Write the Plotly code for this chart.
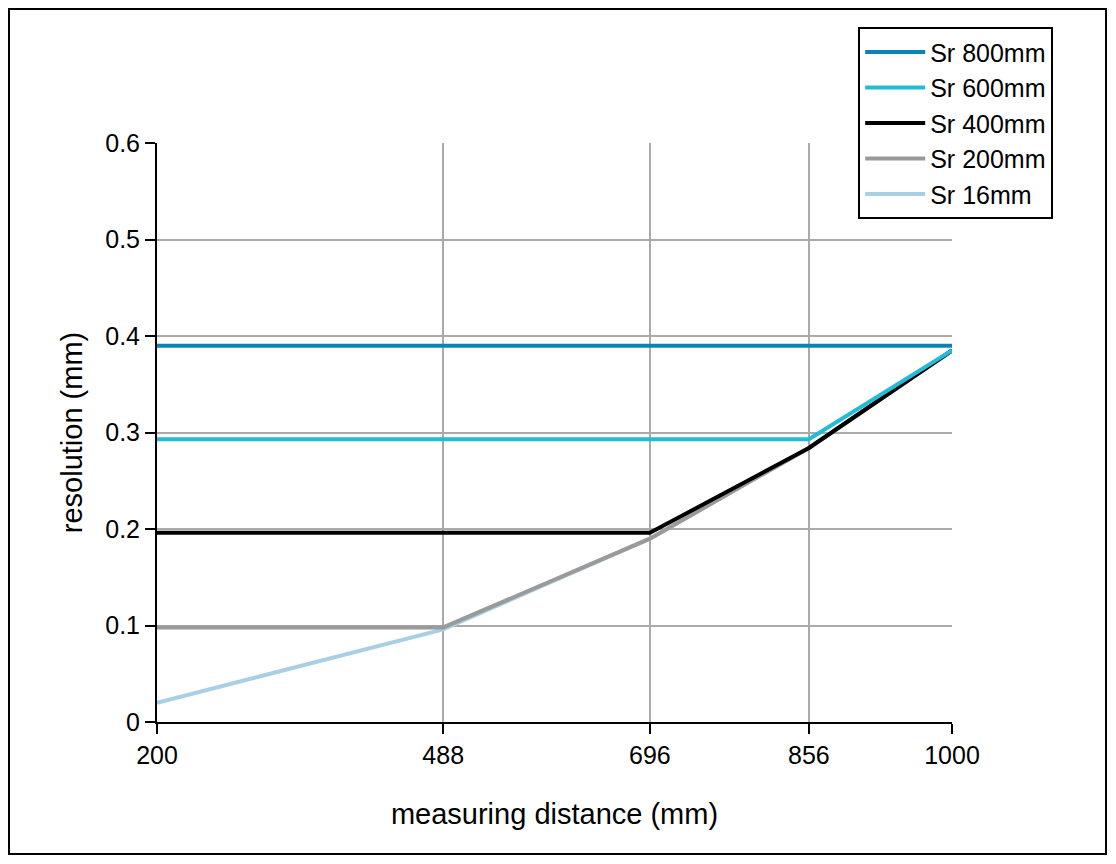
import plotly.graph_objects as go

# measuring distance (mm) and resolution (mm) per measuring range
dist = [200, 488, 696, 856, 1000]
sr800 = [0.39, 0.39, 0.39, 0.39, 0.39]
sr600 = [0.293, 0.293, 0.293, 0.293, 0.385]
sr400 = [0.196, 0.196, 0.196, 0.284, 0.385]
sr200 = [0.098, 0.098, 0.19, 0.284, 0.385]
sr16 = [0.02, 0.096, 0.19, 0.284, 0.385]

names = ["Sr 800mm", "Sr 600mm", "Sr 400mm", "Sr 200mm", "Sr 16mm"]
series = [sr800, sr600, sr400, sr200, sr16]
colors = ["#0a84b8", "#22bcd8", "#000000", "#9a9a9a", "#a8d0e4"]

W, H = 1100, 848
L, T, PW, PH = 149, 135, 795, 579

fig = go.Figure()
# draw bottom-most first so Sr 800 ends on top
for n, s, c in reversed(list(zip(names, series, colors))):
    fig.add_trace(go.Scatter(x=dist, y=s, name=n, mode="lines",
                             line=dict(color=c, width=4)))

fig.update_layout(
    width=W, height=H,
    margin=dict(l=L, r=W - L - PW, t=T, b=H - T - PH),
    paper_bgcolor="white", plot_bgcolor="white",
    font=dict(family="Liberation Sans, DejaVu Sans, sans-serif", size=24, color="black"),
    legend=dict(x=0.882, y=1.2, xanchor="left", yanchor="top",
                traceorder="reversed", bordercolor="black", borderwidth=2,
                bgcolor="white", font=dict(size=25), itemwidth=60,
                tracegroupgap=0),
    shapes=[dict(type="rect", xref="paper", yref="paper",
                 x0=(1 - L)/PW, x1=(W - 2 - L)/PW, y0=-(H - T - PH - 2)/PH, y1=(T - 1)/PH + 1,
                 line=dict(color="black", width=2))],
)
fig.update_xaxes(range=[200, 1000], tickvals=dist, ticktext=[str(d) for d in dist],
                 tickfont=dict(size=25),
                 showgrid=True, gridcolor="#aaaaaa", gridwidth=2,
                 showline=True, linecolor="black", linewidth=2,
                 ticks="outside", ticklen=10, tickwidth=2, tickcolor="black",
                 title=dict(text="measuring distance (mm)", standoff=36), zeroline=False)
fig.update_yaxes(range=[0, 0.6], tickvals=[0, 0.1, 0.2, 0.3, 0.4, 0.5, 0.6],
                 ticktext=["0", "0.1", "0.2", "0.3", "0.4", "0.5", "0.6"],
                 tickfont=dict(size=25),
                 showgrid=True, gridcolor="#aaaaaa", gridwidth=2,
                 showline=True, linecolor="black", linewidth=2,
                 ticks="outside", ticklen=10, tickwidth=2, tickcolor="black",
                 title=dict(text="resolution (mm)", standoff=14), zeroline=False)

fig.write_html("out.html")
